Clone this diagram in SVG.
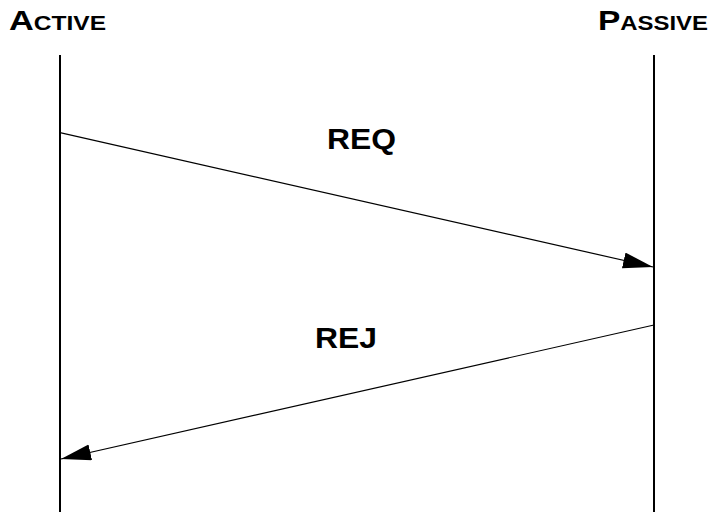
<svg xmlns="http://www.w3.org/2000/svg" width="712" height="512" viewBox="0 0 712 512">
  <style>
    .lbl { font-family: "Liberation Sans", Arial, sans-serif; font-weight: bold; fill: #000; }
    .life { stroke: #000; stroke-width: 2; fill: none; }
    .msg { stroke: #000; stroke-width: 1.2; fill: none; marker-end: url(#arrow); }
  </style>
  <defs>
    <marker id="arrow" markerUnits="userSpaceOnUse" markerWidth="31" markerHeight="17" refX="30" refY="8" orient="auto" viewBox="0 0 31 17">
      <path d="M0,0 L30,8 L0,16 Z" fill="#000"/>
    </marker>
  </defs>
  <rect width="712" height="512" fill="#fff"/>
  <g id="active">
    <text class="lbl" x="9" y="30" textLength="97" lengthAdjust="spacingAndGlyphs"><tspan font-size="28">A</tspan><tspan font-size="20">CTIVE</tspan></text>
    <line class="life" x1="60" y1="55" x2="60" y2="512"/>
  </g>
  <g id="passive">
    <text class="lbl" x="598" y="30" textLength="110" lengthAdjust="spacingAndGlyphs"><tspan font-size="28">P</tspan><tspan font-size="20">ASSIVE</tspan></text>
    <line class="life" x1="654" y1="55" x2="654" y2="512"/>
  </g>
  <g id="connectors">
    <line class="msg" x1="60" y1="132.7" x2="653" y2="267"/>
    <text class="lbl" x="327" y="149" font-size="29" textLength="69" lengthAdjust="spacingAndGlyphs">REQ</text>
    <line class="msg" x1="654" y1="325" x2="61" y2="459"/>
    <text class="lbl" x="315" y="348" font-size="29" textLength="62" lengthAdjust="spacingAndGlyphs">REJ</text>
  </g>
</svg>
